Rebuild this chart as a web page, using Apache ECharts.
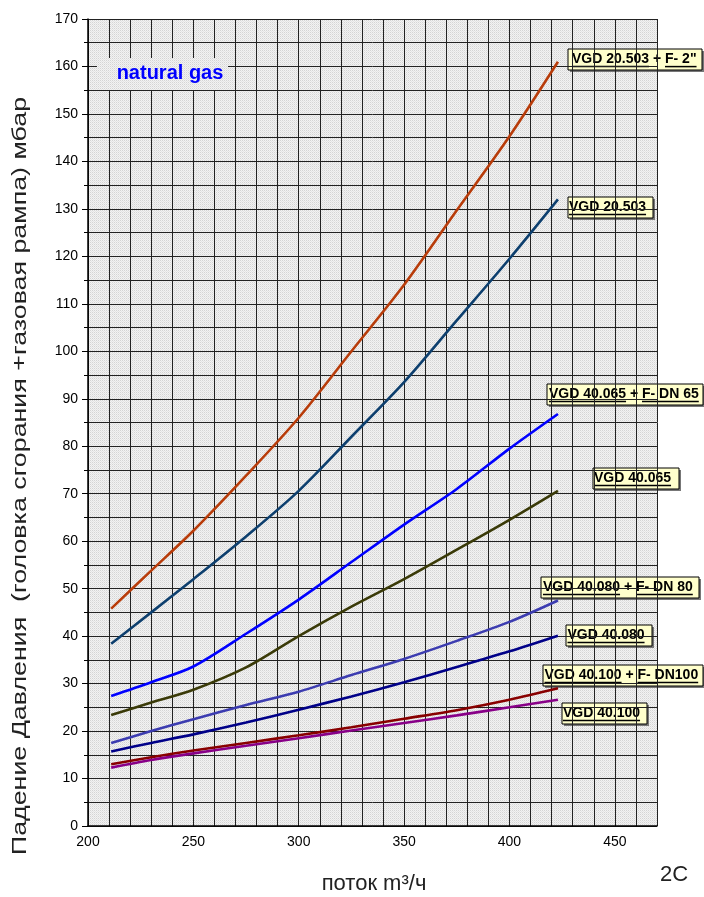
<!DOCTYPE html>
<html>
<head>
<meta charset="utf-8">
<script src="https://cdn.jsdelivr.net/npm/echarts@6/dist/echarts.min.js"></script>
<style>
html,body{margin:0;padding:0;background:#fff;}
#chart{width:704px;height:897px;}
</style>
</head>
<body>
<div id="chart"></div>
<script>
// ---- data ----
const flow = [211, 230, 250, 275, 300, 325, 350, 375, 400, 423];
const vgd20503F2   = [45.8, 53.8, 62.2, 73.8, 86.0, 100.0, 114.0, 129.7, 145.3, 161.0];
const vgd20503     = [38.4, 45.0, 52.0, 61.0, 70.6, 82.0, 93.5, 106.5, 119.5, 132.0];
const vgd40065F65  = [27.4, 30.3, 33.6, 40.5, 47.7, 55.6, 63.5, 71.0, 79.5, 86.8];
const vgd40065     = [23.4, 26.0, 28.7, 33.4, 40.0, 46.2, 52.0, 58.2, 64.5, 70.6];
const vgd40080F80  = [17.5, 20.0, 22.5, 25.5, 28.3, 31.8, 35.2, 39.0, 43.0, 47.5];
const vgd40080     = [15.7, 17.5, 19.3, 21.8, 24.5, 27.3, 30.3, 33.5, 36.8, 40.1];
const vgd40100F100 = [13.0, 14.5, 15.9, 17.5, 19.1, 20.8, 22.6, 24.4, 26.6, 29.0];
const vgd40100     = [12.3, 13.9, 15.3, 16.9, 18.5, 20.1, 21.7, 23.3, 25.0, 26.6];
const seriesNames = ['VGD 20.503 + F- 2"', 'VGD 20.503', 'VGD 40.065 + F- DN 65', 'VGD 40.065',
                     'VGD 40.080 + F- DN 80', 'VGD 40.080', 'VGD 40.100 + F- DN100', 'VGD 40.100'];
const xTickLabels = [200, 250, 300, 350, 400, 450];
const yTitle = 'Падение Давления  (головка сгорания +газовая рампа) мбар';
const xTitle = 'поток m³/ч';
const noteText = 'natural gas';
const cornerText = '2C';

// ---- styling ----
const FONT = '"Liberation Sans", Arial, sans-serif';
const allValues = [vgd20503F2, vgd20503, vgd40065F65, vgd40065, vgd40080F80, vgd40080, vgd40100F100, vgd40100];
const colors = ['#b83c0a', '#0d3f6e', '#0000ff', '#3a3a08', '#3c3cb0', '#000088', '#880000', '#880088'];

// stipple pattern for plot background
const pc = document.createElement('canvas');
pc.width = 2; pc.height = 2;
const pctx = pc.getContext('2d');
pctx.fillStyle = '#f2f2f2'; pctx.fillRect(0,0,2,2);
pctx.fillStyle = '#d4d4d4'; pctx.fillRect(0,0,1,1);
pctx.fillStyle = '#e4e4e4'; pctx.fillRect(1,1,1,1);
const pattern = {image: pc, repeat: 'repeat'};

const mctx = document.createElement('canvas').getContext('2d');
const LFS = 14;
mctx.font = 'bold ' + LFS + 'px ' + FONT;

function labelBox(boxLeft, boxTop, boxW, textLeft, parts) {
  const h = 21;
  const children = [
    {type:'rect', shape:{x:2, y:2, width:boxW, height:h}, style:{fill:'#777'}},
    {type:'rect', shape:{x:0, y:0, width:boxW, height:h}, style:{fill:'#ffffcc', stroke:'#000', lineWidth:1}}
  ];
  let x = textLeft - boxLeft;
  parts.forEach(p => {
    const tw = mctx.measureText(p[0]).width;
    children.push({type:'text', x: x, y: h/2 - 0.8,
      style:{text:p[0], fontSize:LFS, fontWeight:'bold', fontFamily:FONT, fill:'#000', align:'left', verticalAlign:'middle'}});
    if (p[1]) {
      children.push({type:'line', shape:{x1:x, y1:17.6, x2:x+tw, y2:17.6}, style:{stroke:'#000', lineWidth:1.5}});
    }
    x += tw;
  });
  return {type:'group', x: boxLeft, y: boxTop, z: 100, children};
}

const labels = [
  labelBox(568, 49, 134, 572, [['VGD 20.503',1],[' + ',0],['F- 2"',1]]),
  labelBox(568, 197, 85, 569, [['VGD 20.503',1]]),
  labelBox(547, 384, 156, 549, [['VGD 40.065',1],[' + ',0],['F- DN 65',1]]),
  labelBox(593, 468, 86, 594, [['VGD 40.065',1]]),
  labelBox(541, 577, 158, 543, [['VGD 40.080',1],[' + ',0],['F- DN 80',1]]),
  labelBox(566, 625, 86, 567.5, [['VGD 40.080',1]]),
  labelBox(543, 665, 160, 544.5, [['VGD 40.100',1],[' + ',0],['F- DN100',1]]),
  labelBox(562, 703, 85, 563, [['VGD 40.100',1]])
];

const graphics = labels.concat([
  {type:'rect', z: 90, shape:{x:97, y:58, width:131, height:32}, style:{fill:pattern}},
  {type:'text', z: 91, x:170, y:73, style:{text:noteText, fontSize:20, fontWeight:'bold', fontFamily:FONT, fill:'#0000ff', align:'center', verticalAlign:'middle'}},
  {type:'text', z: 91, x:20, y:476, rotation: Math.PI/2, scaleX:1.34,
    style:{text:yTitle, fontSize:20, fontFamily:FONT, fill:'#222', align:'center', verticalAlign:'middle'}},
  {type:'text', z: 91, x:374, y:884, style:{text:xTitle, fontSize:22, fontFamily:FONT, fill:'#222', align:'center', verticalAlign:'middle'}},
  {type:'text', z: 91, x:674, y:875, style:{text:cornerText, fontSize:22, fontFamily:FONT, fill:'#222', align:'center', verticalAlign:'middle'}}
]);

const series = allValues.map((vals, i) => ({
  name: seriesNames[i],
  type: 'line',
  data: flow.map((f, j) => [f, vals[j]]),
  smooth: 0.3,
  showSymbol: false,
  z: 5,
  lineStyle: {color: colors[i], width: 2.6},
  itemStyle: {color: colors[i]}
}));

const chart = echarts.init(document.getElementById('chart'), null, {renderer:'canvas'});
chart.setOption({
  animation: false,
  backgroundColor: '#ffffff',
  grid: {left: 88, right: 47, top: 19, bottom: 71, show: true, backgroundColor: pattern, borderWidth: 0},
  xAxis: {
    type: 'value', min: 200, max: 470, interval: 10,
    axisLine: {show: true, onZero: false, lineStyle: {color: '#000', width: 1.5}},
    axisTick: {show: false},
    axisLabel: {fontSize: 14, color: '#000', fontFamily: FONT, margin: 9,
      formatter: v => (xTickLabels.indexOf(v) >= 0 ? String(v) : '')},
    splitLine: {show: true, lineStyle: {color: '#222', width: 1}}
  },
  yAxis: {
    type: 'value', min: 0, max: 170, interval: 10,
    axisLine: {show: true, lineStyle: {color: '#000', width: 1.5}},
    axisTick: {show: true, length: 6, lineStyle: {color: '#000'}},
    minorTick: {show: true, splitNumber: 2, length: 4, lineStyle: {color: '#000'}},
    axisLabel: {fontSize: 14, color: '#000', fontFamily: FONT, margin: 10},
    splitLine: {show: true, lineStyle: {color: '#222', width: 1}},
    minorSplitLine: {show: true, lineStyle: {color: '#222', width: 1}}
  },
  graphic: graphics,
  series: series
});
</script>
</body>
</html>
